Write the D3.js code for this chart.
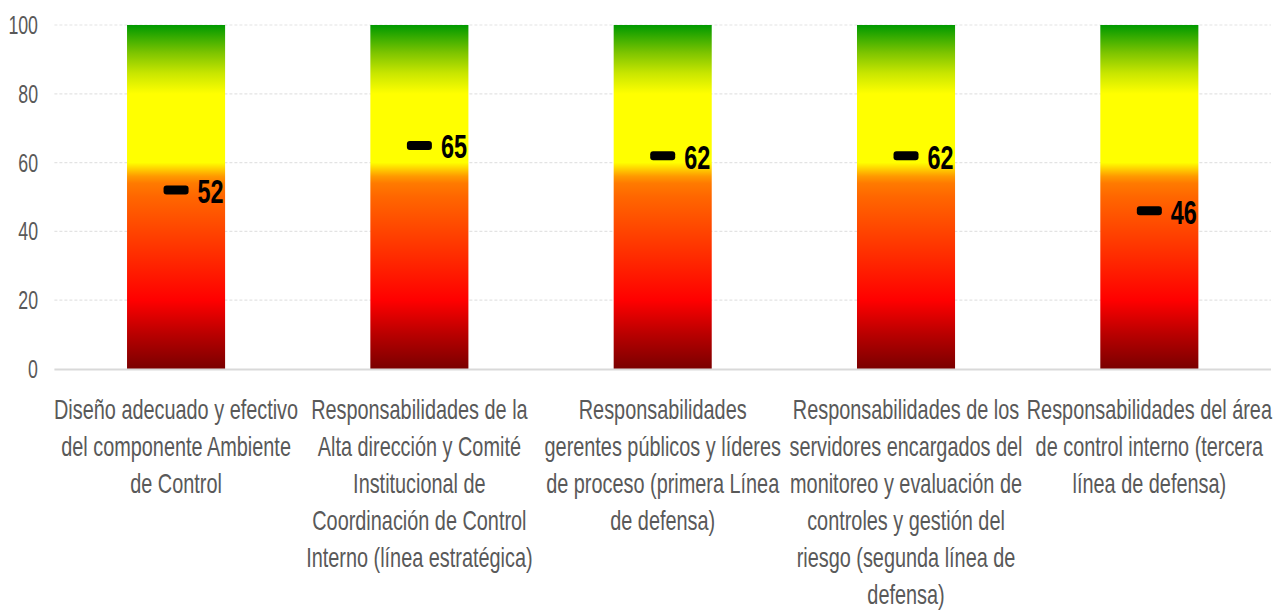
<!DOCTYPE html>
<html>
<head>
<meta charset="utf-8">
<script src="https://cdn.jsdelivr.net/npm/d3@7"></script>
<style>
  html, body { margin: 0; padding: 0; background: #fff; }
  svg { display: block; }
  text { font-family: "Liberation Sans", Arial, sans-serif; }
</style>
</head>
<body>
<svg id="chart" width="1278" height="613"></svg>
<script>
// Components of the control environment (label lines as shown under each column)
const categories = [
  ["Diseño adecuado y efectivo", "del componente Ambiente", "de Control"],
  ["Responsabilidades de la", "Alta dirección y Comité", "Institucional de", "Coordinación de Control", "Interno (línea estratégica)"],
  ["Responsabilidades", "gerentes públicos y líderes", "de proceso (primera Línea", "de defensa)"],
  ["Responsabilidades de los", "servidores encargados del", "monitoreo y evaluación de", "controles y gestión del", "riesgo (segunda línea de", "defensa)"],
  ["Responsabilidades del área", "de control interno (tercera", "línea de defensa)"]
];
// Score obtained per component
const scores = [52, 65, 62, 62, 46];
// Full scale of each column
const scaleMax = [100, 100, 100, 100, 100];
// Y axis ticks
const yTicks = [0, 20, 40, 60, 80, 100];
// Colour ramp along the 0–100 scale
const rampOffsets = [0, 10, 20, 35, 50, 54, 56, 58, 60, 80, 86, 92, 100];
const rampColors = ["#7a0000", "#b80000", "#ff0000", "#ff3300", "#ff6600", "#ff7a00", "#ff9900", "#ffcc00", "#ffff00", "#ffff00", "#c8e600", "#7cc400", "#009900"];

const svg = d3.select("#chart");
const margin = { left: 54.4, right: 7, top: 25, bottom: 244 };
const W = 1278, H = 613;
const x = d3.scaleBand()
  .domain(d3.range(categories.length))
  .range([margin.left, W - margin.right])
  .paddingInner(0.597)
  .paddingOuter(0.2985);
const y = d3.scaleLinear().domain([0, 100]).range([H - margin.bottom, margin.top]);
const sx = 0.71; // narrow letterforms

// vertical gradient in user space so every column shares the same ramp
const defs = svg.append("defs");
const grad = defs.append("linearGradient")
  .attr("id", "ramp")
  .attr("gradientUnits", "userSpaceOnUse")
  .attr("x1", 0).attr("x2", 0)
  .attr("y1", y(0)).attr("y2", y(100));
grad.selectAll("stop").data(rampOffsets).join("stop")
  .attr("offset", d => d / 100)
  .attr("stop-color", (d, i) => rampColors[i]);

// gridlines
svg.append("g").selectAll("line").data(yTicks.filter(t => t > 0)).join("line")
  .attr("x1", margin.left).attr("x2", W - margin.right)
  .attr("y1", d => y(d)).attr("y2", d => y(d))
  .attr("stroke", "#e3e3e3").attr("stroke-width", 1.2)
  .attr("stroke-dasharray", "3,2");

// y tick labels
svg.append("g").selectAll("text").data(yTicks).join("text")
  .attr("transform", d => `translate(38,${y(d)}) scale(${sx},1)`)
  .attr("dy", "0.36em")
  .attr("text-anchor", "end")
  .attr("fill", "#595959")
  .attr("font-size", 25)
  .text(d => d);

// columns
svg.append("g").selectAll("rect").data(scaleMax).join("rect")
  .attr("x", (d, i) => x(i))
  .attr("width", x.bandwidth())
  .attr("y", d => y(d))
  .attr("height", d => y(0) - y(d))
  .attr("fill", "url(#ramp)");

// baseline
svg.append("line")
  .attr("x1", margin.left).attr("x2", W - margin.right)
  .attr("y1", y(0) + 0.5).attr("y2", y(0) + 0.5)
  .attr("stroke", "#d9d9d9").attr("stroke-width", 2);

// score markers
const mw = 25, mh = 9;
svg.append("g").selectAll("rect").data(scores).join("rect")
  .attr("x", (d, i) => x(i) + x.bandwidth() / 2 - mw / 2)
  .attr("y", d => y(d) - mh / 2)
  .attr("width", mw).attr("height", mh)
  .attr("rx", 3)
  .attr("fill", "#000");

// score labels
svg.append("g").selectAll("text").data(scores).join("text")
  .attr("transform", (d, i) => `translate(${x(i) + x.bandwidth() / 2 + mw / 2 + 9},${y(d) + 1}) scale(${sx},1)`)
  .attr("dy", "0.36em")
  .attr("font-size", 33)
  .attr("font-weight", "bold")
  .attr("fill", "#000")
  .text(d => d);

// category labels
const lineH = 37;
const cat = svg.append("g").selectAll("g").data(categories).join("g");
cat.each(function (lines, i) {
  d3.select(this).selectAll("text").data(lines).join("text")
    .attr("transform", (l, j) => `translate(${x(i) + x.bandwidth() / 2},${419 + j * lineH}) scale(${sx},1)`)
    .attr("text-anchor", "middle")
    .attr("fill", "#595959")
    .attr("font-size", 28)
    .text(l => l);
});
</script>
</body>
</html>
